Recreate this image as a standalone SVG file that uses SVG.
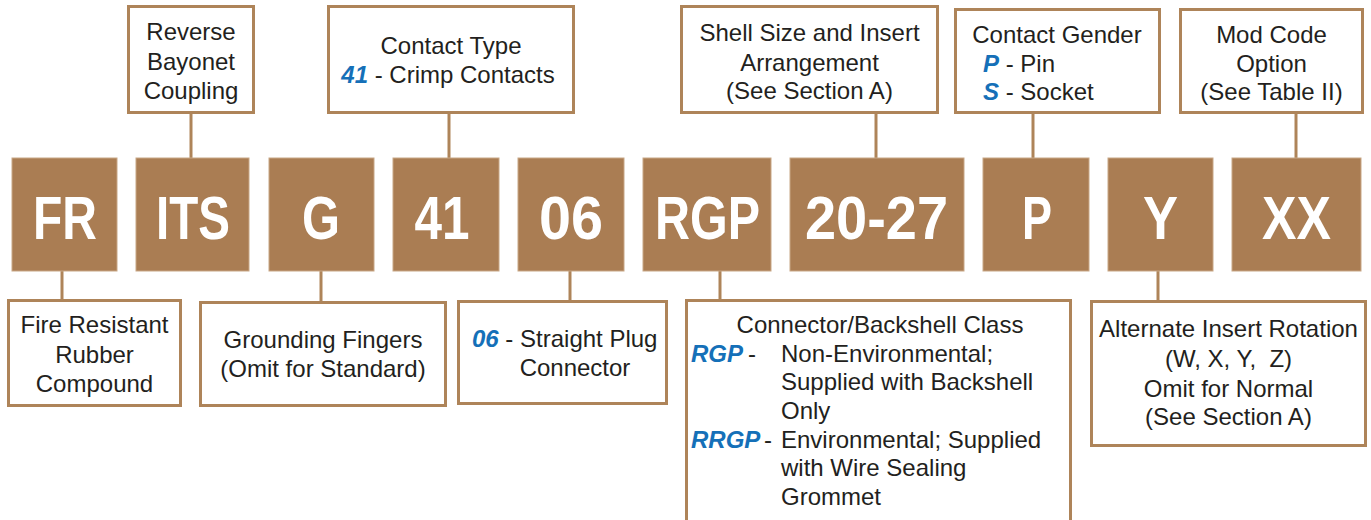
<svg xmlns="http://www.w3.org/2000/svg" width="1371" height="520" viewBox="0 0 1371 520">
<style>
.box{fill:#fff;stroke:#AE8459;stroke-width:3}
.blk{fill:#AA7D53;stroke:#C8A786;stroke-width:1}
.code{font-family:"Liberation Sans",Arial,sans-serif;font-weight:700;font-size:61px;fill:#fff;text-anchor:middle}
.t{font-family:"Liberation Sans",Arial,sans-serif;font-size:24px;fill:#231F20}
.c{text-anchor:middle}
.b{font-weight:700;font-style:italic;fill:#1570B8}
.ln{stroke:#AE8459;stroke-width:3;fill:none}
</style>
<rect width="1371" height="520" fill="#fff"/>
<g id="connectors">
<line class="ln" x1="191" y1="113" x2="191" y2="158"/>
<line class="ln" x1="449" y1="113" x2="449" y2="158"/>
<line class="ln" x1="876" y1="113" x2="876" y2="158"/>
<line class="ln" x1="1033" y1="113" x2="1033" y2="158"/>
<line class="ln" x1="1296" y1="113" x2="1296" y2="158"/>
<line class="ln" x1="62" y1="271" x2="62" y2="300"/>
<line class="ln" x1="321" y1="271" x2="321" y2="302"/>
<line class="ln" x1="570" y1="271" x2="570" y2="301"/>
<line class="ln" x1="720" y1="271" x2="720" y2="300"/>
<line class="ln" x1="1158" y1="271" x2="1158" y2="301"/>
</g>
<g id="blk-FR"><rect class="blk" x="12" y="158" width="105" height="113"/><text class="code" x="65" y="239" textLength="64" lengthAdjust="spacingAndGlyphs">FR</text></g>
<g id="blk-ITS"><rect class="blk" x="136" y="158" width="113" height="113"/><text class="code" x="193" y="239" textLength="74" lengthAdjust="spacingAndGlyphs">ITS</text></g>
<g id="blk-G"><rect class="blk" x="269" y="158" width="105" height="113"/><text class="code" x="321" y="239" textLength="38" lengthAdjust="spacingAndGlyphs">G</text></g>
<g id="blk-41"><rect class="blk" x="393" y="158" width="106" height="113"/><text class="code" x="442" y="239" textLength="55" lengthAdjust="spacingAndGlyphs">41</text></g>
<g id="blk-06"><rect class="blk" x="518" y="158" width="106" height="113"/><text class="code" x="571" y="239" textLength="64" lengthAdjust="spacingAndGlyphs">06</text></g>
<g id="blk-RGP"><rect class="blk" x="643" y="158" width="128" height="113"/><text class="code" x="707.5" y="239" textLength="105" lengthAdjust="spacingAndGlyphs">RGP</text></g>
<g id="blk-2027"><rect class="blk" x="790" y="158" width="174" height="113"/><text class="code" x="876.5" y="239" textLength="143" lengthAdjust="spacingAndGlyphs">20-27</text></g>
<g id="blk-P"><rect class="blk" x="983" y="158" width="106" height="113"/><text class="code" x="1037" y="239" textLength="30" lengthAdjust="spacingAndGlyphs">P</text></g>
<g id="blk-Y"><rect class="blk" x="1108" y="158" width="105" height="113"/><text class="code" x="1160.5" y="239" textLength="35" lengthAdjust="spacingAndGlyphs">Y</text></g>
<g id="blk-XX"><rect class="blk" x="1232" y="158" width="129" height="113"/><text class="code" x="1296.5" y="239" textLength="69" lengthAdjust="spacingAndGlyphs">XX</text></g>

<g id="top-reverse"><rect class="box" x="128.5" y="6.5" width="125" height="106"/>
<text class="t c" x="191" y="40">Reverse</text><text class="t c" x="191" y="70">Bayonet</text><text class="t c" x="191" y="99">Coupling</text></g>
<g id="top-contact"><rect class="box" x="328.5" y="6.5" width="245" height="106"/>
<text class="t c" x="451" y="54">Contact Type</text><text class="t c" x="448" y="83"><tspan class="b">41</tspan> - Crimp Contacts</text></g>
<g id="top-shell"><rect class="box" x="681.5" y="6.5" width="256" height="106"/>
<text class="t c" x="809.5" y="41">Shell Size and Insert</text><text class="t c" x="809.5" y="71">Arrangement</text><text class="t c" x="809.5" y="99">(See Section A)</text></g>
<g id="top-gender"><rect class="box" x="955.5" y="9.5" width="204" height="103"/>
<text class="t c" x="1057" y="43">Contact Gender</text><text class="t" x="983" y="72"><tspan class="b">P</tspan> - Pin</text><text class="t" x="983" y="100"><tspan class="b">S</tspan> - Socket</text></g>
<g id="top-mod"><rect class="box" x="1180.5" y="9.5" width="182" height="103"/>
<text class="t c" x="1271.5" y="43">Mod Code</text><text class="t c" x="1271.5" y="72">Option</text><text class="t c" x="1271.5" y="100">(See Table II)</text></g>

<g id="bot-fire"><rect class="box" x="8.5" y="300.5" width="172" height="105"/>
<text class="t c" x="94.5" y="333">Fire Resistant</text><text class="t c" x="94.5" y="363">Rubber</text><text class="t c" x="94.5" y="392">Compound</text></g>
<g id="bot-ground"><rect class="box" x="200.5" y="302.5" width="245" height="103"/>
<text class="t c" x="323" y="348">Grounding Fingers</text><text class="t c" x="323" y="377">(Omit for Standard)</text></g>
<g id="bot-06"><rect class="box" x="458.5" y="301.5" width="208" height="102"/>
<text class="t" x="472" y="347"><tspan class="b">06</tspan> - Straight Plug</text><text class="t c" x="575" y="376">Connector</text></g>
<g id="bot-rgp"><rect class="box" x="686.5" y="300.5" width="384" height="240"/>
<text class="t c" x="880" y="333">Connector/Backshell Class</text>
<text class="t b" x="691" y="362">RGP</text>
<text class="t" x="748" y="362">-</text>
<text class="t" x="781" y="362">Non-Environmental;</text>
<text class="t" x="781" y="390">Supplied with Backshell</text>
<text class="t" x="781" y="419">Only</text>
<text class="t b" x="691" y="448">RRGP</text>
<text class="t" x="764" y="448">-</text>
<text class="t" x="781" y="448">Environmental; Supplied</text>
<text class="t" x="781" y="476">with Wire Sealing</text>
<text class="t" x="781" y="505">Grommet</text></g>
<g id="bot-alt"><rect class="box" x="1091.5" y="301.5" width="274" height="144"/>
<text class="t c" x="1228.5" y="337">Alternate Insert Rotation</text><text class="t c" x="1228.5" y="367" xml:space="preserve">(W, X, Y,  Z)</text><text class="t c" x="1228.5" y="397">Omit for Normal</text><text class="t c" x="1228.5" y="425">(See Section A)</text></g>
</svg>
